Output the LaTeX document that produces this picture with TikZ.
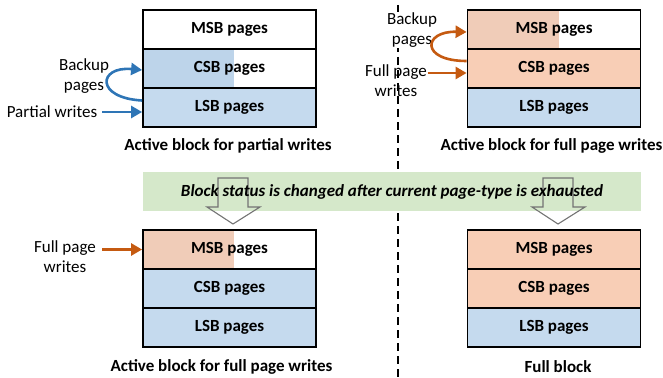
\documentclass[tikz,border=0pt]{standalone}
\usepackage{fontspec}
\setmainfont{Carlito}
\usepackage{tikz}
\usetikzlibrary{arrows.meta,calc}

\definecolor{pageblue}{RGB}{197,218,238}
\definecolor{partblue}{RGB}{189,212,234}
\definecolor{pageorange}{RGB}{248,206,182}
\definecolor{partorange}{RGB}{240,204,184}
\definecolor{bandgreen}{RGB}{213,232,202}
\definecolor{arrblue}{RGB}{46,117,182}
\definecolor{arrorange}{RGB}{197,90,17}

\begin{document}
\begin{tikzpicture}[x=1pt,y=-1pt,
	page/.style={draw=black, line width=1.8pt, minimum width=173pt, minimum height=39pt, inner sep=0pt, font=\fontsize{17}{20}\selectfont\bfseries},
	lbl/.style={align=center, inner sep=1pt, font=\fontsize{17}{20}\selectfont},
	caption/.style={font=\fontsize{17}{20}\selectfont\bfseries},
	bluearr/.style={draw=arrblue, line width=2.6pt, -{Triangle[length=11pt,width=12pt]}},
	orangearr/.style={draw=arrorange, line width=2.6pt, -{Triangle[length=11pt,width=12pt]}},
	hollow/.style={draw=black!55, line width=1.1pt, line join=miter}]
	\useasboundingbox (0,0) rectangle (663,377);
	% divider
	\draw [line width=2pt, dash pattern=on 8pt off 5pt] (398,5) -- (398,377);
	% active block for partial writes
	\fill [partblue] (143,49) rectangle (234,88);
	\node[page] (amsb) at (229.5,29.5) {MSB pages};
	\node[page] (acsb) at (229.5,68.5) {CSB pages};
	\node[page,fill=pageblue] (alsb) at (229.5,107.5) {LSB pages};
	\node[caption] (acap) at (228,146) {Active block for partial writes};
	\node[lbl] (aback) at (84,76) {Backup\\pages};
	\node[lbl] (apart) at (52,112) {Partial writes};
	\draw [bluearr] ($(alsb.west)+(0,-7)$) .. controls (95,98) and (98,66) .. ($(acsb.west)+(0,1.5)$);
	\draw [bluearr] ($(alsb.west)+(-40,4.5)$) -- ($(alsb.west)+(0,4.5)$);
	% active block for full page writes
	\fill [partorange] (467,10) rectangle (559,49);
	\node[page] (bmsb) at (554,29.5) {MSB pages};
	\node[page,fill=pageorange] (bcsb) at (554,68.5) {CSB pages};
	\node[page,fill=pageblue] (blsb) at (554,107.5) {LSB pages};
	\node[caption] (bcap) at (551.5,146) {Active block for full page writes};
	\node[lbl,fill=white] (bback) at (412,30) {Backup\\pages};
	\node[lbl] (bfull) at (396,81) {Full page\\writes};
	\draw [orangearr] ($(bcsb.west)+(0,-7.5)$) .. controls (420,61) and (423,31) .. ($(bmsb.west)+(0,2.5)$);
	\draw [orangearr] ($(bcsb.west)+(-39,4.5)$) -- ($(bcsb.west)+(0,4.5)$);
	% status change
	\node[fill=bandgreen, minimum width=498pt, minimum height=39pt, inner sep=0pt] (band) at (392,191.5) {};
	\draw [hollow] (218,178) -- (248,178) -- (248,207) -- (260,207) -- (233,224) -- (207,207) -- (218,207) -- cycle;
	\draw [hollow] (543,178) -- (573,178) -- (573,207) -- (585,207) -- (558,224) -- (532,207) -- (543,207) -- cycle;
	\node[font=\fontsize{17}{20}\selectfont\bfseries\itshape] (bandtxt) at (band) {Block status is changed after current page-type is exhausted};
	% active block for full page writes (after)
	\fill [partorange] (143,230) rectangle (234,269);
	\node[page] (cmsb) at (229.5,249.5) {MSB pages};
	\node[page,fill=pageblue] (ccsb) at (229.5,288.5) {CSB pages};
	\node[page,fill=pageblue] (clsb) at (229.5,327.5) {LSB pages};
	\node[caption] (ccap) at (221.5,367) {Active block for full page writes};
	\node[lbl] (cfull) at (65,257) {Full page\\writes};
	\draw [orangearr] ($(cmsb.west)+(-40,0)$) -- (cmsb.west);
	% full block
	\node[page,fill=pageorange] (dmsb) at (554,249.5) {MSB pages};
	\node[page,fill=pageorange] (dcsb) at (554,288.5) {CSB pages};
	\node[page,fill=pageblue] (dlsb) at (554,327.5) {LSB pages};
	\node[caption] (dcap) at (558,367) {Full block};
\end{tikzpicture}
\end{document}
